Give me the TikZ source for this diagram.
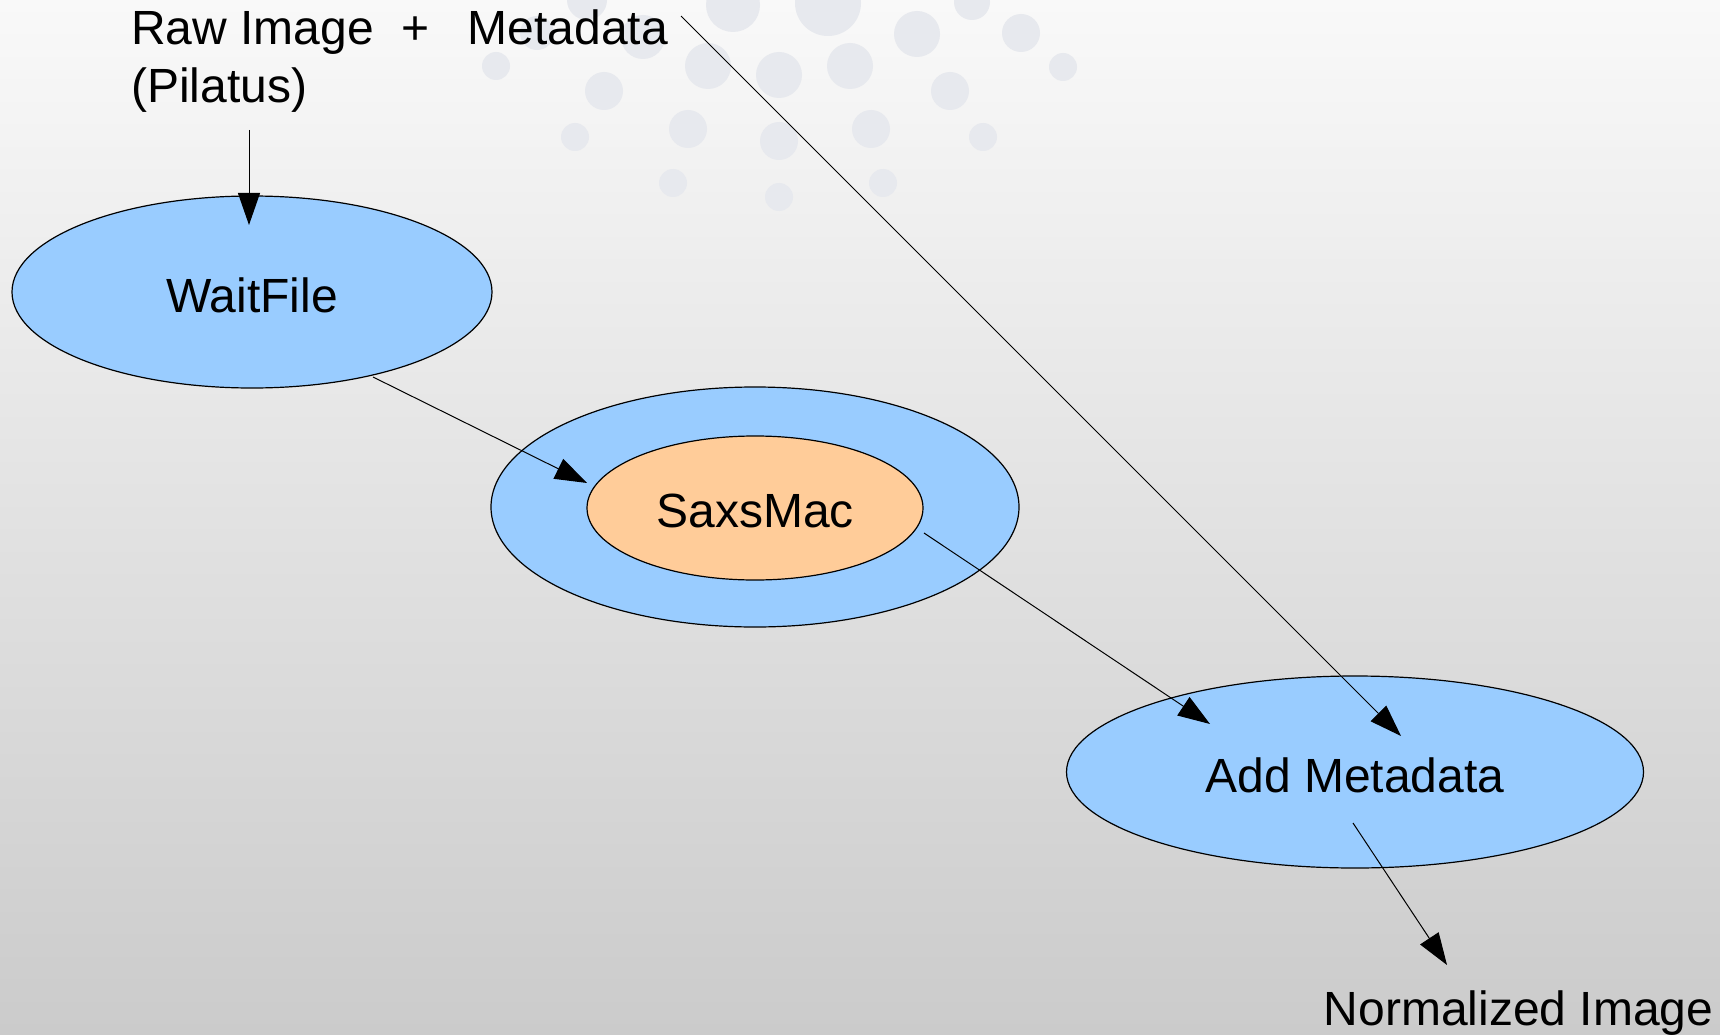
\documentclass[tikz,border=0pt]{standalone}
\usepackage{fontspec}
\setmainfont{Liberation Sans}
\usetikzlibrary{arrows.meta,shapes.geometric}
\definecolor{bgtop}{HTML}{F9F9F9}
\definecolor{bgbot}{HTML}{CBCBCB}
\definecolor{dotc}{HTML}{E7E9EE}
\definecolor{nodeblue}{HTML}{99CCFF}
\definecolor{nodeorange}{HTML}{FFCC99}
\newcommand{\lowtext}[1]{\raisebox{-3pt}[\height][\depth]{#1}}
\begin{document}
\begin{tikzpicture}[x=1pt,y=-1pt,
  proc/.style={ellipse, draw=black, line width=1.2pt, fill=nodeblue, inner sep=0pt, font=\fontsize{48}{58}\selectfont},
  lbl/.style={inner sep=0pt, font=\fontsize{48}{58}\selectfont},
  arr/.style={draw=black, line width=1pt, -{Triangle[length=32pt,width=22pt]}},
  bgdot/.style={fill=dotc, draw=none}]
\shade[top color=bgtop, bottom color=bgbot] (0,0) rectangle (1720,1035);
\useasboundingbox (0,0) rectangle (1720,1035);
\foreach \x/\y/\r in {496/66/14, 604/91/19, 575/137/14, 688/129/19, 673/183/14, 708/66/23,
  537/33/17, 643/37/22, 587/0/20, 733/5/27, 828/3/33, 972/2/18, 917/34/23, 1021/33/19,
  1063/67/14, 779/75/23, 850/66/23, 950/91/19, 871/129/19, 779/141/19, 983/137/14,
  883/183/14, 779/197/14}
  \fill[bgdot] (\x,\y) circle[radius=\r pt];
\node[proc, minimum width=480pt, minimum height=192pt] (wait) at (252,292) {\lowtext{WaitFile}};
\node[proc, minimum width=528pt, minimum height=240pt] (saxsouter) at (755,507) {};
\node[proc, fill=nodeorange, minimum width=336pt, minimum height=144pt] (saxs) at (755,508) {\lowtext{SaxsMac}};
\node[proc, minimum width=577pt, minimum height=192pt] (addmeta) at (1355,772) {\lowtext{Add Metadata}};
\node[lbl, anchor=north west, align=left] (raw) at (131,9.5) {Raw Image\hspace{27.7pt}+\hspace{38pt}Metadata\\(Pilatus)};
\node[lbl, anchor=base west] (norm) at (1323.5,1025) {Normalized Image};
\coordinate (rawout) at (249,130);
\coordinate (waitin) at (249,225);
\coordinate (waitout) at (373,377);
\coordinate (saxsin) at (587,483);
\coordinate (saxsout) at (924,533);
\coordinate (addin1) at (1210,724);
\coordinate (metaout) at (681,16);
\coordinate (addin2) at (1401,736);
\coordinate (addout) at (1353,823);
\coordinate (normin) at (1447,965);
\draw[arr] (rawout) -- (waitin);
\draw[arr] (waitout) -- (saxsin);
\draw[arr] (saxsout) -- (addin1);
\draw[arr] (metaout) -- (addin2);
\draw[arr] (addout) -- (normin);
\end{tikzpicture}
\end{document}
